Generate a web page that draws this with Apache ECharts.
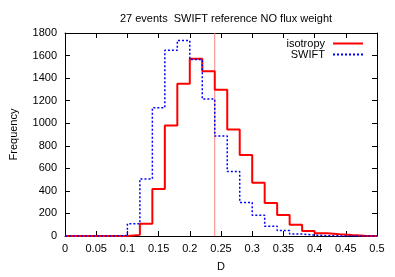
<!DOCTYPE html>
<html><head><meta charset="utf-8">
<script src="https://cdn.jsdelivr.net/npm/echarts@6/dist/echarts.min.js"></script>
<style>html,body{margin:0;padding:0;background:#fff}#c{width:395px;height:277px}</style>
</head><body><div id="c"></div>
<script>
var binEdges = [0,0.02,0.04,0.06,0.08,0.10,0.12,0.14,0.16,0.18,0.20,0.22,0.24,0.26,0.28,0.30,0.32,0.34,0.36,0.38,0.40,0.42,0.44,0.46,0.48,0.50];
var isotropy = [0,0,0,0,0,10,108,416,980,1350,1572,1461,1296,944,718,473,292,187,100,45,24,16,9,3,0];
var swift = [0,0,0,0,5,108,506,1137,1646,1734,1564,1214,886,571,298,185,87,48,17,8,3,1,0,0,0];
var xTicks = ['0','0.05','0.1','0.15','0.2','0.25','0.3','0.35','0.4','0.45','0.5'];
var refLine = 0.24;
var yMax = 1800;
var titleText = '27 events  SWIFT reference NO flux weight';

function steps(vals){
  var d = [];
  for (var i=0;i<vals.length;i++) d.push([binEdges[i], vals[i]]);
  d.push([binEdges[vals.length], vals[vals.length-1]]);
  return d;
}
var solidIcon = 'path://M0,0H30V2H0Z';
var dotIcon = 'path://M0,0h2v2h-2zM4,0h2v2h-2zM8,0h2v2h-2zM12,0h2v2h-2zM16,0h2v2h-2zM20,0h2v2h-2zM24,0h2v2h-2zM28,0h2v2h-2z';
var font = 'Liberation Sans, Arial, sans-serif';
var chart = echarts.init(document.getElementById('c'), null, {renderer:'canvas'});
var axisCommon = {
  axisLine:{show:true,onZero:false,lineStyle:{color:'#000',width:1}},
  axisTick:{show:true,inside:true,length:5,lineStyle:{color:'#000'}},
  splitLine:{show:false}
};
chart.setOption({
  animation:false,
  title:{text:titleText,left:221,textAlign:'center',top:8,textStyle:{fontFamily:font,fontSize:11,fontWeight:'normal',color:'#000'}},
  grid:{left:63,right:18,top:33,bottom:33},
  legend:[
    {data:[{name:'isotropy',icon:solidIcon}],right:32,top:38,orient:'vertical',align:'right',itemWidth:30,itemHeight:2,itemGap:2,padding:0,
     textStyle:{fontFamily:font,fontSize:11,color:'#000',padding:[0,3,0,0]}},
    {data:[{name:'SWIFT',icon:dotIcon}],right:32,top:49,orient:'vertical',align:'right',itemWidth:30,itemHeight:2,itemGap:2,padding:0,
     textStyle:{fontFamily:font,fontSize:11,color:'#000',padding:[0,3,0,0]}}
  ],
  xAxis:[
    Object.assign({type:'value',min:0,max:0.5,interval:0.05,position:'bottom',
      name:'D',nameLocation:'middle',nameGap:25,nameTextStyle:{fontFamily:font,fontSize:11,color:'#000'},
      axisLabel:{fontFamily:font,fontSize:11,color:'#000',margin:7,formatter:function(v){return xTicks[Math.round(v/0.05)];}}},axisCommon),
    Object.assign({type:'value',min:0,max:0.5,interval:0.05,position:'top',axisLabel:{show:false}},axisCommon)
  ],
  yAxis:[
    Object.assign({type:'value',min:0,max:yMax,interval:200,position:'left',
      name:'Frequency',nameLocation:'middle',nameGap:46,nameTextStyle:{fontFamily:font,fontSize:11,color:'#000'},
      axisLabel:{fontFamily:font,fontSize:11,color:'#000',margin:8,formatter:function(v){return String(v);}}},axisCommon),
    Object.assign({type:'value',min:0,max:yMax,interval:200,position:'right',axisLabel:{show:false}},axisCommon)
  ],
  series:[
    {name:'ref',type:'line',data:[[refLine,0],[refLine,yMax]],symbol:'none',silent:true,
     lineStyle:{color:'#ff8080',width:1},itemStyle:{color:'#ff8080'}},
    {name:'isotropy',type:'line',step:'end',data:steps(isotropy),symbol:'none',
     lineStyle:{color:'#ff0000',width:2},itemStyle:{color:'#ff0000'}},
    {name:'SWIFT',type:'line',step:'end',data:steps(swift),symbol:'none',
     lineStyle:{color:'#0000ff',width:1.5,type:[2,2]},itemStyle:{color:'#0000ff'}}
  ]
});
</script></body></html>
